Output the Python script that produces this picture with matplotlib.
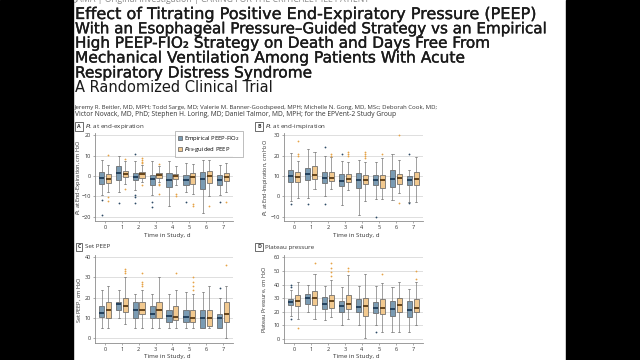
import matplotlib
matplotlib.use('Agg')
import matplotlib.pyplot as plt
import matplotlib.patheffects as pe
from matplotlib.patches import Rectangle, Patch

W, H = 640, 360

days = [0, 1, 2, 3, 4, 5, 6, 7]

# ---------------- Panel A: P_L at end-expiration ----------------
a_emp_med = [-0.7, 1.7, -0.3, -1.5, -2.0, -1.7, -1.5, -2.0]
a_emp_q1 = [-3.7, -1.7, -2.0, -4.2, -5.3, -4.2, -6.2, -4.5]
a_emp_q3 = [2.2, 4.7, 1.7, 0.5, 1.7, 0.5, 1.8, 0.5]
a_emp_lo = [-9.5, -7.8, -7.0, -9.5, -14.5, -7.8, -18.2, -9.5]
a_emp_hi = [7.7, 9.7, 7.2, 7.2, 7.5, 6.3, 8.0, 5.5]
a_emp_out = [[-11.5, -19.2], [-13.2], [10.8, -9.5, -10.3, -13.2], [-12.5, -15.3], [], [-12.8], [], [-12.8]]

a_pes_med = [-1.2, 1.0, 0.8, 0.5, 0.0, -0.3, 0.0, -0.3]
a_pes_q1 = [-3.3, -0.3, -0.7, -0.8, -1.5, -3.7, -3.2, -2.5]
a_pes_q3 = [1.0, 2.7, 1.8, 1.3, 0.8, 1.3, 2.5, 1.3]
a_pes_lo = [-7.8, -4.0, -2.8, -2.8, -4.5, -8.7, -10.0, -7.8]
a_pes_hi = [5.5, 7.5, 5.5, 4.7, 4.7, 6.0, 8.0, 6.3]
a_pes_out = [[10.2, -10.3, -12.0], [8.3, -6.2], [8.8, 8.0, 7.0, 6.2, -4.2], [5.8, -3.7, -4.5, -8.7],
             [-8.7, -10.0], [-13.7, -14.5], [-14.5], [-12.5]]

# ---------------- Panel B: P_L at end-inspiration ----------------
b_emp_med = [10, 11, 9, 7.5, 8, 8, 8.5, 8]
b_emp_q1 = [7, 8, 6.5, 5, 4, 5.5, 4.5, 5.5]
b_emp_q3 = [13, 14, 12, 11, 11.5, 10.5, 13, 10]
b_emp_lo = [-2, -0.5, 0, -4, -9, -1, -1.5, -2.5]
b_emp_hi = [21.5, 23.5, 20, 17.5, 18, 17, 21, 13]
b_emp_out = [[-3.5], [-3.5], [24, -3.5], [21], [], [-10], [], [21, -3]]

b_pes_med = [9.5, 10.5, 9, 8.5, 8, 8, 9, 8.5]
b_pes_q1 = [7, 8.5, 7.5, 7, 6, 4, 6, 5.5]
b_pes_q3 = [12, 15, 12, 11, 10.5, 10.5, 11, 12]
b_pes_lo = [-0.5, 3.5, 3.5, 3, -2, -1, 1.5, -2.5]
b_pes_hi = [17.5, 22, 19.5, 17, 17, 19, 18, 19.5]
b_pes_out = [[20, 21, 27], [], [20, 21], [20, 21, 22], [19, 20, 21, 22], [21], [30, -3], []]

# ---------------- Panel C: Set PEEP ----------------
c_emp_med = [12.5, 17, 14, 12, 11, 10.5, 10, 10]
c_emp_q1 = [10.5, 14, 10, 10, 8, 8, 5, 5]
c_emp_q3 = [16, 18, 18, 16, 14, 14, 14, 12]
c_emp_lo = [5, 10, 5, 5, 5, 5, 5, 5]
c_emp_hi = [24, 24, 22, 22, 22, 23, 23, 20]
c_emp_out = [[], [], [], [], [], [], [], [25]]

c_pes_med = [14, 16, 14, 14, 10.5, 10, 10, 12]
c_pes_q1 = [10, 13, 12, 10, 9, 8, 6, 8]
c_pes_q3 = [18, 20, 18, 18, 16, 14, 14, 18]
c_pes_lo = [5, 7, 5, 5, 5, 5, 5, 0]
c_pes_hi = [26, 30, 24, 30, 24, 22, 26, 26]
c_pes_out = [[], [32, 33, 34], [26, 27, 28, 32], [], [32], [24, 26, 28, 30], [], [36]]

# ---------------- Panel D: Plateau pressure ----------------
d_emp_med = [27, 30, 26, 24, 23.5, 23, 22, 21]
d_emp_q1 = [25, 26, 22, 20, 20, 19, 17, 16]
d_emp_q3 = [29, 33, 31, 28, 29, 27, 28, 28]
d_emp_lo = [17, 20, 14, 10, 10, 10, 5, 5]
d_emp_hi = [36, 40, 39, 38, 39, 39, 38, 37]
d_emp_out = [[38, 40, 15], [], [], [], [], [5], [], []]

d_pes_med = [28, 30, 28, 26, 24, 23, 25, 23]
d_pes_q1 = [24, 25, 23, 22, 17, 18, 20, 20]
d_pes_q3 = [32, 35, 32, 32, 30, 29, 30, 29]
d_pes_lo = [15, 15, 16, 15, 1, 5, 5, 10]
d_pes_hi = [42, 48, 43, 47, 48, 41, 42, 42]
d_pes_out = [[8], [56], [46, 49, 52, 56], [50, 52], [], [48], [], [44, 50]]

series_labels = ['Empirical PEEP-FIO$_2$', '$P_{ES}$-guided PEEP']

title_lines = [
    'Effect of Titrating Positive End-Expiratory Pressure (PEEP)',
    'With an Esophageal Pressure\u2013Guided Strategy vs an Empirical',
    'High PEEP-FIO\u2082 Strategy on Death and Days Free From',
    'Mechanical Ventilation Among Patients With Acute',
    'Respiratory Distress Syndrome',
]
subtitle = 'A Randomized Clinical Trial'
authors = [
    'Jeremy R. Beitler, MD, MPH; Todd Sarge, MD; Valerie M. Banner-Goodspeed, MPH; Michelle N. Gong, MD, MSc; Deborah Cook, MD;',
    'Victor Novack, MD, PhD; Stephen H. Loring, MD; Daniel Talmor, MD, MPH; for the EPVent-2 Study Group',
]

# ---------------- figure ----------------
fig = plt.figure(figsize=(6.4, 3.6), dpi=100)
fig.patch.set_facecolor('white')
fig.add_artist(Rectangle((0, 0), 73 / W, 1, transform=fig.transFigure, color='black', zorder=10))
fig.add_artist(Rectangle((566 / W, 0), 1 - 566 / W, 1, transform=fig.transFigure, color='black', zorder=10))

renderer = fig.canvas.get_renderer()
FAM = ['Open Sans', 'DejaVu Sans']
TFAM = ['DejaVu Sans']


def fx(x):
    return x / W


def fy(y):
    return 1 - y / H


def fit_text(x, y, s, target_w, size0=10, **kw):
    t = fig.text(fx(x), fy(y), s, fontsize=size0, **kw)
    w = t.get_window_extent(renderer).width
    t.set_fontsize(size0 * target_w / w)
    return t


# top cut-off header line
fit_text(75, -1, 'JAMA | Original Investigation | CARING FOR THE CRITICALLY ILL PATIENT', 295,
         family=FAM, color='#8a8a8a', va='center', ha='left')

title_y = [14.5, 28.8, 43.2, 58, 73]
title_end = [537, 547, 490, 465, 312]
thick = [pe.withStroke(linewidth=0.25, foreground='#1a1a1a')]
for s, yy, xe in zip(title_lines, title_y, title_end):
    t = fit_text(75, yy, s, xe - 75, family=TFAM, color='#1a1a1a', va='center', ha='left')
    t.set_path_effects(thick)
fit_text(75, 88, subtitle, 198, family=TFAM, color='#1a1a1a', va='center', ha='left')

fit_text(75, 107.5, authors[0], 362, family=FAM, color='#333333', va='center', ha='left')
fit_text(75, 114.5, authors[1], 318, family=FAM, color='#333333', va='center', ha='left')

EMP_FILL, EMP_MED, EMP_OUT = '#7a9bb3', '#1c3a56', '#2d4b66'
PES_FILL, PES_MED, PES_OUT = '#f2c98f', '#5a3a12', '#e6a347'


def stats(q1, med, q3, lo, hi, out):
    return [dict(med=m, q1=a, q3=b, whislo=l, whishi=h, fliers=o)
            for a, m, b, l, h, o in zip(q1, med, q3, lo, hi, out)]


def draw_panel(rect, emp, pes, ylim, yticks, ylabel, letter, title, ylabel_x, title_x, title_y, xlabel_y):
    x0, y0, x1, y1 = rect
    ax = fig.add_axes([fx(x0), fy(y1), (x1 - x0) / W, (y1 - y0) / H])
    off, wid = 0.2, 0.32
    for st, sh, fill, med, outc in [(emp, -off, EMP_FILL, EMP_MED, EMP_OUT),
                                     (pes, off, PES_FILL, PES_MED, PES_OUT)]:
        ax.bxp(st, positions=[d + sh for d in days], widths=wid, patch_artist=True,
               capwidths=0.12, manage_ticks=False,
               boxprops=dict(facecolor=fill, edgecolor='#5a5a5a', linewidth=0.5),
               medianprops=dict(color=med, linewidth=1.3),
               whiskerprops=dict(color='#7a7a7a', linewidth=0.5),
               capprops=dict(color='#7a7a7a', linewidth=0.5),
               flierprops=dict(marker='o', markersize=1.3, markerfacecolor=outc,
                               markeredgecolor='none'))
    ax.set_xlim(-0.6, 7.6)
    ax.set_ylim(*ylim)
    ax.set_xticks(days)
    ax.set_yticks(yticks)
    ax.grid(axis='y', color='#d9d9d9', linewidth=0.6)
    ax.set_axisbelow(True)
    for sp in ['top', 'right']:
        ax.spines[sp].set_visible(False)
    for sp in ['left', 'bottom']:
        ax.spines[sp].set_color('#8c8c8c')
        ax.spines[sp].set_linewidth(0.6)
    ax.tick_params(labelsize=4.0, length=1.6, width=0.5, color='#8c8c8c', labelcolor='#333333', pad=1.2)
    for lab in ax.get_xticklabels() + ax.get_yticklabels():
        lab.set_family(FAM)
    fig.text(fx(ylabel_x), fy((y0 + y1) / 2), ylabel, rotation=90, fontsize=4.0, family=FAM,
             color='#333333', ha='center', va='center')
    fig.text(fx((x0 + x1) / 2 + 3), fy(xlabel_y), 'Time in Study, d', fontsize=4.5, family=FAM,
             color='#333333', ha='center', va='center')
    fig.text(fx(title_x), fy(title_y), letter, fontsize=3.8, family=FAM, weight='bold', color='#333333',
             ha='center', va='center',
             bbox=dict(boxstyle='square,pad=0.35', fc='white', ec='#333333', lw=0.5))
    fig.text(fx(title_x + 6), fy(title_y), title, fontsize=4.5, family=FAM, color='#333333',
             ha='left', va='center')
    return ax


axA = draw_panel((95, 133, 233, 221),
                 stats(a_emp_q1, a_emp_med, a_emp_q3, a_emp_lo, a_emp_hi, a_emp_out),
                 stats(a_pes_q1, a_pes_med, a_pes_q3, a_pes_lo, a_pes_hi, a_pes_out),
                 (-22, 21.1), [-20, -10, 0, 10, 20], '$P_L$ at End-Expiration, cm H$_2$O',
                 'A', '$P_L$ at end-expiration', 78.5, 79, 126.5, 235)
axB = draw_panel((284, 133, 423, 221),
                 stats(b_emp_q1, b_emp_med, b_emp_q3, b_emp_lo, b_emp_hi, b_emp_out),
                 stats(b_pes_q1, b_pes_med, b_pes_q3, b_pes_lo, b_pes_hi, b_pes_out),
                 (-12, 31.1), [-10, 0, 10, 20, 30], '$P_L$ at End-Inspiration, cm H$_2$O',
                 'B', '$P_L$ at end-inspiration', 265, 259, 126.5, 235)
axC = draw_panel((95, 255, 233, 343.3),
                 stats(c_emp_q1, c_emp_med, c_emp_q3, c_emp_lo, c_emp_hi, c_emp_out),
                 stats(c_pes_q1, c_pes_med, c_pes_q3, c_pes_lo, c_pes_hi, c_pes_out),
                 (-2.5, 41.1), [0, 10, 20, 30, 40], 'Set PEEP, cm H$_2$O',
                 'C', 'Set PEEP', 80, 79, 247, 356.5)
axD = draw_panel((284, 255, 423, 343.3),
                 stats(d_emp_q1, d_emp_med, d_emp_q3, d_emp_lo, d_emp_hi, d_emp_out),
                 stats(d_pes_q1, d_pes_med, d_pes_q3, d_pes_lo, d_pes_hi, d_pes_out),
                 (-3.2, 61.7), [0, 10, 20, 30, 40, 50, 60], 'Plateau Pressure, cm H$_2$O',
                 'D', 'Plateau pressure', 265, 259, 247, 356.5)

handles = [Patch(facecolor=EMP_FILL, edgecolor='#5a5a5a', linewidth=0.5),
           Patch(facecolor=PES_FILL, edgecolor='#5a5a5a', linewidth=0.5)]
leg = fig.legend(handles, series_labels, loc='upper left', bbox_to_anchor=(fx(172), fy(128)),
                 handlelength=0.7, handleheight=0.7, handletextpad=0.4,
                 borderpad=0.5, labelspacing=0.35, fancybox=False, frameon=True,
                 prop=dict(family=FAM, size=4.2))
leg.get_frame().set_edgecolor('#8c8c8c')
leg.get_frame().set_linewidth(0.5)

fig.savefig('out.png', dpi=100)
